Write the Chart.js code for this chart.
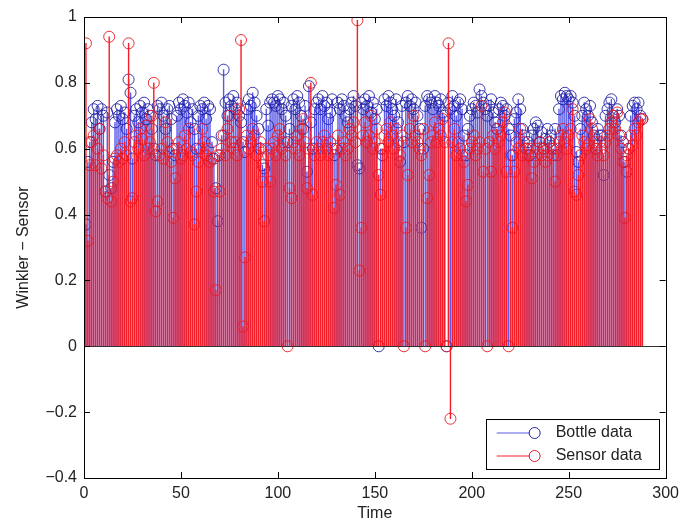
<!DOCTYPE html>
<html>
<head>
<meta charset="utf-8">
<script src="https://cdn.jsdelivr.net/npm/chart.js@4.4.1/dist/chart.umd.min.js"></script>
<style>
  html, body { margin: 0; padding: 0; background: #fff; }
</style>
</head>
<body>
<canvas id="grafico" width="685" height="524"></canvas>
<script>
// Winkler - Sensor, one value per sample (time = 1..288)
var bottle = [
  0.37, 0.56, 0.62, 0.68, 0.72, 0.69, 0.73, 0.66, 0.72, 0.70, 0.47, 0.71,
  0.52, 0.48, 0.56, 0.68, 0.72, 0.70, 0.73, 0.69, 0.71, 0.66, 0.81, 0.77,
  0.57, 0.70, 0.72, 0.68, 0.73, 0.71, 0.74, 0.69, 0.72, 0.70, 0.66, 0.60,
  0.58, 0.73, 0.72, 0.74, 0.70, 0.66, 0.72, 0.73, 0.69, 0.60, 0.58, 0.70,
  0.74, 0.72, 0.75, 0.73, 0.71, 0.74, 0.68, 0.72, 0.66, 0.60, 0.70, 0.73,
  0.72, 0.74, 0.69, 0.73, 0.72, 0.62, 0.57, 0.48, 0.38, 0.58, 0.64, 0.84,
  0.74, 0.70, 0.75, 0.73, 0.76, 0.72, 0.74, 0.70, 0.68, 0.62, 0.59, 0.72,
  0.75, 0.73, 0.77, 0.74, 0.70, 0.66, 0.60, 0.55, 0.54, 0.72, 0.67, 0.74,
  0.75, 0.74, 0.73, 0.76, 0.75, 0.72, 0.74, 0.70, 0.62, 0.66, 0.73, 0.75,
  0.72, 0.76, 0.74, 0.70, 0.66, 0.73, 0.53, 0.79, 0.68, 0.60, 0.72, 0.74,
  0.75, 0.72, 0.76, 0.73, 0.74, 0.69, 0.71, 0.75, 0.58, 0.60, 0.74, 0.72,
  0.75, 0.73, 0.70, 0.68, 0.72, 0.74, 0.76, 0.73, 0.55, 0.54, 0.74, 0.72,
  0.75, 0.73, 0.76, 0.71, 0.74, 0.69, 0.72, 0.00, 0.60, 0.58, 0.75, 0.73,
  0.76, 0.74, 0.72, 0.70, 0.75, 0.68, 0.56, 0.73, 0.62, 0.74, 0.76, 0.73,
  0.75, 0.72, 0.74, 0.70, 0.66, 0.36, 0.60, 0.73, 0.76, 0.75, 0.74, 0.72,
  0.76, 0.74, 0.73, 0.75, 0.71, 0.70, 0.00, 0.74, 0.72, 0.76, 0.73, 0.70,
  0.74, 0.75, 0.72, 0.64, 0.58, 0.66, 0.70, 0.72, 0.74, 0.73, 0.71, 0.78,
  0.76, 0.74, 0.72, 0.70, 0.73, 0.75, 0.71, 0.68, 0.66, 0.72, 0.74, 0.73,
  0.70, 0.72, 0.66, 0.64, 0.58, 0.69, 0.71, 0.75, 0.72, 0.66, 0.64, 0.60,
  0.62, 0.58, 0.64, 0.66, 0.68, 0.67, 0.62, 0.65, 0.60, 0.63, 0.66, 0.62,
  0.64, 0.60, 0.66, 0.58, 0.72, 0.76, 0.75, 0.77, 0.76, 0.75, 0.76, 0.74,
  0.70, 0.59, 0.56, 0.66, 0.70, 0.74, 0.72, 0.70, 0.73, 0.68, 0.64, 0.60,
  0.66, 0.64, 0.64, 0.52, 0.70, 0.72, 0.74, 0.75, 0.70, 0.68, 0.72, 0.70,
  0.64, 0.62, 0.56, 0.53, 0.60, 0.70, 0.73, 0.74, 0.72, 0.74, 0.70, 0.69
];
var sensor = [
  0.92, 0.32, 0.55, 0.62, 0.64, 0.55, 0.60, 0.66, 0.54, 0.58, 0.47, 0.45,
  0.94, 0.44, 0.50, 0.57, 0.58, 0.56, 0.60, 0.57, 0.62, 0.58, 0.92, 0.44,
  0.45, 0.62, 0.64, 0.60, 0.66, 0.63, 0.58, 0.67, 0.60, 0.62, 0.70, 0.80,
  0.41, 0.44, 0.58, 0.60, 0.57, 0.68, 0.62, 0.59, 0.56, 0.39, 0.51, 0.60,
  0.62, 0.57, 0.58, 0.64, 0.60, 0.66, 0.59, 0.58, 0.37, 0.47, 0.56, 0.60,
  0.66, 0.62, 0.58, 0.60, 0.56, 0.57, 0.47, 0.17, 0.58, 0.47, 0.60, 0.64,
  0.58, 0.66, 0.70, 0.62, 0.60, 0.62, 0.58, 0.72, 0.93, 0.06, 0.27, 0.64,
  0.60, 0.62, 0.66, 0.64, 0.58, 0.60, 0.62, 0.50, 0.38, 0.60, 0.58, 0.50,
  0.60, 0.62, 0.58, 0.64, 0.66, 0.60, 0.62, 0.58, 0.00, 0.48, 0.45, 0.62,
  0.60, 0.64, 0.58, 0.66, 0.69, 0.62, 0.48, 0.60, 0.80, 0.46, 0.58, 0.62,
  0.60, 0.58, 0.62, 0.64, 0.60, 0.58, 0.62, 0.60, 0.42, 0.49, 0.64, 0.46,
  0.60, 0.62, 0.58, 0.60, 0.66, 0.64, 0.68, 0.62, 0.99, 0.23, 0.36, 0.64,
  0.68, 0.62, 0.64, 0.70, 0.60, 0.62, 0.66, 0.52, 0.46, 0.60, 0.64, 0.66,
  0.62, 0.68, 0.64, 0.60, 0.66, 0.62, 0.58, 0.64, 0.00, 0.36, 0.52, 0.66,
  0.62, 0.70, 0.64, 0.62, 0.60, 0.58, 0.66, 0.00, 0.45, 0.52, 0.62, 0.64,
  0.68, 0.62, 0.66, 0.64, 0.69, 0.62, 0.00, 0.92, -0.22, 0.62, 0.66, 0.58,
  0.62, 0.60, 0.58, 0.56, 0.44, 0.49, 0.60, 0.62, 0.64, 0.58, 0.60, 0.62,
  0.73, 0.53, 0.60, 0.00, 0.62, 0.53, 0.64, 0.60, 0.66, 0.62, 0.64, 0.68,
  0.71, 0.53, 0.00, 0.58, 0.36, 0.53, 0.62, 0.60, 0.66, 0.58, 0.62, 0.60,
  0.58, 0.60, 0.51, 0.56, 0.58, 0.60, 0.62, 0.58, 0.60, 0.56, 0.58, 0.62,
  0.60, 0.58, 0.50, 0.60, 0.62, 0.64, 0.66, 0.62, 0.60, 0.64, 0.66, 0.72,
  0.47, 0.46, 0.52, 0.58, 0.64, 0.62, 0.60, 0.61, 0.69, 0.66, 0.62, 0.60,
  0.58, 0.62, 0.60, 0.58, 0.62, 0.64, 0.66, 0.68, 0.70, 0.66, 0.71, 0.64,
  0.60, 0.56, 0.39, 0.58, 0.60, 0.64, 0.61, 0.66, 0.64, 0.68, 0.69, 0.69
];
var xTicks = [0, 50, 100, 150, 200, 250, 300];
var yTicks = [-0.4, -0.2, 0, 0.2, 0.4, 0.6, 0.8, 1];
var yTickLabels = ["\u22120.4", "\u22120.2", "0", "0.2", "0.4", "0.6", "0.8", "1"];
var seriesNames = ["Bottle data", "Sensor data"];
var stemColors = ["rgb(90,90,230)", "rgb(245,30,40)"];
var markColors = ["rgb(35,35,165)", "rgb(235,25,35)"];

var fonte = { family: "'Liberation Sans', Arial, sans-serif", size: 16 };
var corTexto = "#222";

function pontos(valores) {
    return valores.map(function (v, i) { return { x: i + 1, y: v }; });
}

// caixas, ticks internos, linha de base e legenda (estilo matlab)
var moldura = {
    id: "moldura",
    afterDatasetsDraw: function (chart) {
        var ctx = chart.ctx;
        var a = chart.chartArea;
        var sx = chart.scales.x, sy = chart.scales.y;
        ctx.save();
        ctx.strokeStyle = "#333";
        ctx.lineWidth = 1;
        var y0 = Math.round(sy.getPixelForValue(0)) + 0.5;
        ctx.beginPath();
        ctx.moveTo(a.left, y0);
        ctx.lineTo(a.right, y0);
        ctx.stroke();

        ctx.strokeStyle = "#000";
        ctx.strokeRect(Math.round(a.left) + 0.5, Math.round(a.top) + 0.5,
            Math.round(a.right - a.left), Math.round(a.bottom - a.top));
        ctx.beginPath();
        xTicks.forEach(function (v) {
            var px = Math.round(sx.getPixelForValue(v)) + 0.5;
            ctx.moveTo(px, a.bottom); ctx.lineTo(px, a.bottom - 6);
            ctx.moveTo(px, a.top); ctx.lineTo(px, a.top + 6);
        });
        yTicks.forEach(function (v) {
            var py = Math.round(sy.getPixelForValue(v)) + 0.5;
            ctx.moveTo(a.left, py); ctx.lineTo(a.left + 6, py);
            ctx.moveTo(a.right, py); ctx.lineTo(a.right - 6, py);
        });
        ctx.stroke();
        ctx.restore();
    },
    afterDraw: function (chart) {
        var ctx = chart.ctx;
        var a = chart.chartArea;
        var bx = a.right - 180, by = a.bottom - 59, bw = 173, bh = 50;
        ctx.save();
        ctx.fillStyle = "#fff";
        ctx.fillRect(bx, by, bw, bh);
        ctx.strokeStyle = "#000";
        ctx.lineWidth = 1;
        ctx.strokeRect(Math.round(bx) + 0.5, Math.round(by) + 0.5, bw, bh);
        ctx.font = fonte.size + "px " + fonte.family;
        ctx.textBaseline = "middle";
        seriesNames.forEach(function (nome, i) {
            var yy = by + 14 + i * 23;
            ctx.strokeStyle = stemColors[i];
            ctx.beginPath();
            ctx.moveTo(bx + 11, yy);
            ctx.lineTo(bx + 44, yy);
            ctx.stroke();
            ctx.strokeStyle = markColors[i];
            ctx.beginPath();
            ctx.arc(bx + 49, yy, 5.5, 0, Math.PI * 2);
            ctx.stroke();
            ctx.fillStyle = corTexto;
            ctx.fillText(nome, bx + 70, yy);
        });
        ctx.restore();
    }
};

function datasets() {
    var lista = [];
    [bottle, sensor].forEach(function (serie, i) {
        lista.push({
            type: "bar",
            label: seriesNames[i] + " stem",
            data: pontos(serie),
            backgroundColor: stemColors[i],
            borderWidth: 0,
            barThickness: 0.75,
            grouped: false,
            order: 4 - 2 * i
        });
        lista.push({
            type: "scatter",
            label: seriesNames[i],
            data: pontos(serie),
            pointStyle: "circle",
            pointRadius: 5.5,
            pointBorderWidth: 0.9,
            borderColor: markColors[i],
            backgroundColor: "rgba(0,0,0,0)",
            showLine: false,
            order: 3 - 2 * i
        });
    });
    return lista;
}

new Chart(document.getElementById("grafico").getContext("2d"), {
    type: "scatter",
    data: { datasets: datasets() },
    options: {
        responsive: false,
        animation: false,
        layout: { padding: { top: 17, right: 18, left: 0, bottom: 0 } },
        plugins: {
            legend: { display: false },
            tooltip: { enabled: false }
        },
        scales: {
            x: {
                type: "linear",
                min: 0,
                max: 300,
                offset: false,
                grid: { display: false, drawTicks: false },
                border: { display: false },
                afterBuildTicks: function (s) { s.ticks = xTicks.map(function (v) { return { value: v }; }); },
                afterFit: function (s) { s.height = 46; },
                ticks: { padding: 6, font: fonte, color: corTexto, maxRotation: 0, autoSkip: false },
                title: { display: true, text: "Time", font: fonte, color: corTexto, padding: { top: 0, bottom: 1 } }
            },
            y: {
                type: "linear",
                min: -0.4,
                max: 1,
                grid: { display: false, drawTicks: false },
                border: { display: false },
                afterBuildTicks: function (s) { s.ticks = yTicks.map(function (v) { return { value: v }; }); },
                afterFit: function (s) { s.width = 84; },
                ticks: {
                    padding: 7, font: fonte, color: corTexto, autoSkip: false,
                    callback: function (v, idx) { return yTickLabels[idx]; }
                },
                title: { display: true, text: "Winkler \u2212 Sensor", font: fonte, color: corTexto, padding: { top: 14, bottom: 0 } }
            }
        }
    },
    plugins: [moldura]
});
</script>
</body>
</html>
